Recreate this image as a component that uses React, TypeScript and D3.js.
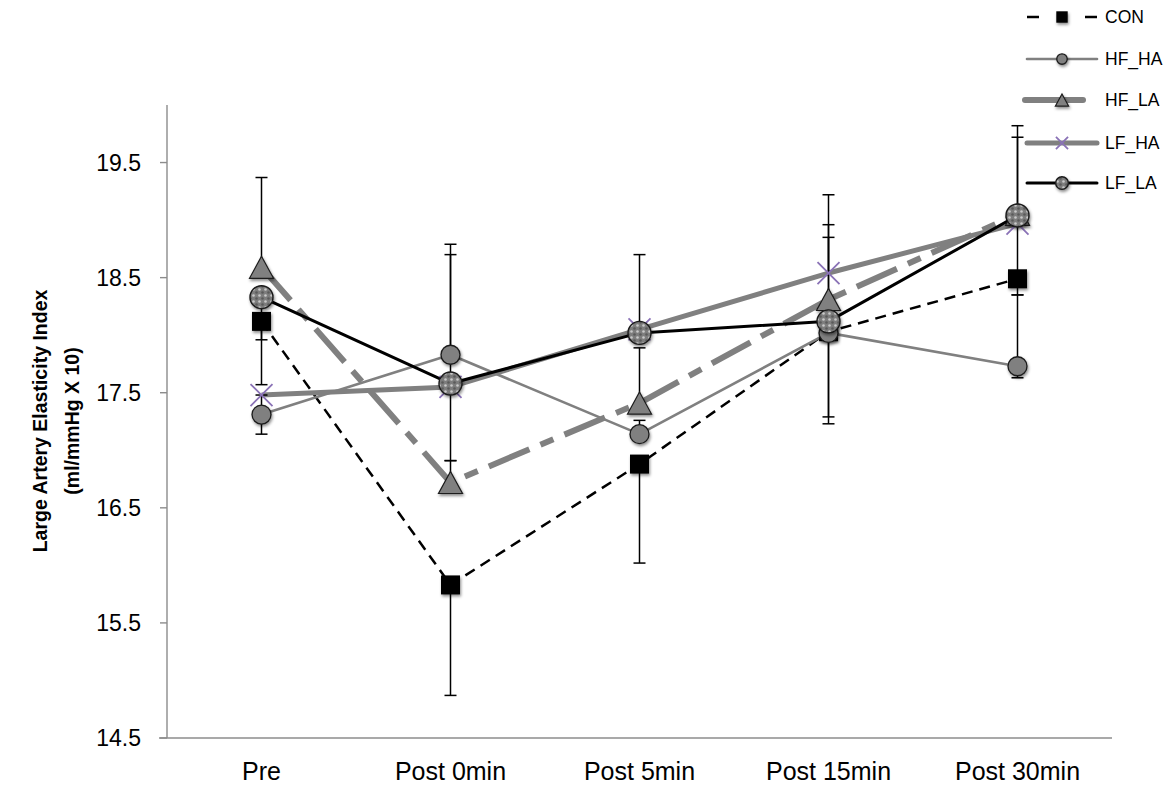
import React from "react";
import * as d3 from "d3";

// Time points on the x axis
const categories = ["Pre", "Post 0min", "Post 5min", "Post 15min", "Post 30min"];
const yTicks = [14.5, 15.5, 16.5, 17.5, 18.5, 19.5];

// Group means
const conValues = [18.12, 15.83, 16.88, 18.03, 18.49];
const hfHaValues = [17.31, 17.83, 17.14, 18.02, 17.73];
const hfLaValues = [18.59, 16.72, 17.41, 18.31, 19.05];
const lfHaValues = [17.48, 17.55, 18.05, 18.54, 18.97];
const lfLaValues = [18.33, 17.58, 18.02, 18.12, 19.04];

// One-sided error bars (0 = not drawn)
const conErrPlus = [0, 0, 0, 0, 0];
const conErrMinus = [0.55, 0.96, 0.86, 0.8, 0];
const hfHaErrPlus = [0.17, 0.96, 0.12, 0, 0.62];
const hfHaErrMinus = [0.17, 0, 0, 0.73, 0.1];
const hfLaErrPlus = [0.78, 0.19, 0.48, 0.65, 0.77];
const hfLaErrMinus = [0, 0, 0, 0, 0];
const lfHaErrPlus = [0, 0, 0, 0.68, 0];
const lfHaErrMinus = [0, 0.64, 0, 0, 0.62];
const lfLaErrPlus = [0, 1.12, 0.68, 0.73, 0.68];
const lfLaErrMinus = [0.37, 0, 0, 0, 0];

type MarkerKind = "square" | "circle" | "triangle" | "x" | "pattern";

interface Series {
  name: string;
  values: number[];
  plus: number[];
  minus: number[];
  color: string;
  width: number;
  dash?: string;
  marker: MarkerKind;
}

const series: Series[] = [
  { name: "CON", values: conValues, plus: conErrPlus, minus: conErrMinus, color: "#000000", width: 2.5, dash: "11,7", marker: "square" },
  { name: "HF_HA", values: hfHaValues, plus: hfHaErrPlus, minus: hfHaErrMinus, color: "#808080", width: 2.6, marker: "circle" },
  { name: "HF_LA", values: hfLaValues, plus: hfLaErrPlus, minus: hfLaErrMinus, color: "#808080", width: 6, dash: "44,12,14,12", marker: "triangle" },
  { name: "LF_HA", values: lfHaValues, plus: lfHaErrPlus, minus: lfHaErrMinus, color: "#808080", width: 5, marker: "x" },
  { name: "LF_LA", values: lfLaValues, plus: lfLaErrPlus, minus: lfLaErrMinus, color: "#000000", width: 3, marker: "pattern" },
];

const W = 1171;
const H = 786;
const plotLeft = 167;
const plotRight = 1112;
const plotTop = 105;
const plotBottom = 738;

const font = "'Liberation Sans', Arial, Helvetica, sans-serif";

function Marker({ kind, cx, cy, scale = 1 }: { kind: MarkerKind; cx: number; cy: number; scale?: number }) {
  const s = scale;
  if (kind === "square") {
    const h = 9.5 * s;
    return <rect x={cx - h} y={cy - h} width={2 * h} height={2 * h} fill="#000" filter="url(#mshadow)" />;
  }
  if (kind === "circle") {
    return <circle cx={cx} cy={cy} r={9.5 * s} fill="#808080" stroke="#1a1a1a" strokeWidth={1.3} filter="url(#mshadow)" />;
  }
  if (kind === "pattern") {
    return <circle cx={cx} cy={cy} r={11.5 * s} fill="url(#dotfill)" stroke="#1a1a1a" strokeWidth={1.4} filter="url(#mshadow)" />;
  }
  if (kind === "triangle") {
    const hw = 12 * s;
    const hh = 11 * s;
    const p = d3.path();
    p.moveTo(cx, cy - hh);
    p.lineTo(cx + hw, cy + hh);
    p.lineTo(cx - hw, cy + hh);
    p.closePath();
    return <path d={p.toString()} fill="#808080" stroke="#1a1a1a" strokeWidth={1.2} filter="url(#mshadow)" />;
  }
  const r = 11 * s;
  const p = d3.path();
  p.moveTo(cx - r, cy - r);
  p.lineTo(cx + r, cy + r);
  p.moveTo(cx + r, cy - r);
  p.lineTo(cx - r, cy + r);
  return <path d={p.toString()} stroke="#8a72b6" strokeWidth={1.8} fill="none" />;
}

export default function App() {
  const x = d3.scaleBand<string>().domain(categories).range([plotLeft, plotRight]).padding(0);
  const cx = (c: string) => (x(c) ?? 0) + x.bandwidth() / 2;
  const y = d3.scaleLinear().domain([14.5, 20]).range([plotBottom, plotTop]);

  const line = d3
    .line<number>()
    .x((_, i) => cx(categories[i]))
    .y((v) => y(v));

  const legendY = [17, 59, 100, 143, 183];
  const legendX0 = 1027;
  const legendX1 = 1097;
  const legendMid = 1062;

  return (
    <svg
      width={W}
      height={H}
      style={{ position: "absolute", left: 0, top: 0, background: "#fff" }}
      fontFamily={font}
    >
      <defs>
        <filter id="mshadow" x="-50%" y="-50%" width="200%" height="200%">
          <feDropShadow dx="1" dy="2" stdDeviation="1.6" floodColor="#000" floodOpacity="0.45" />
        </filter>
        <pattern id="dotfill" patternUnits="userSpaceOnUse" width="6" height="6">
          <rect width="6" height="6" fill="#7d7d7d" />
          <circle cx="1.5" cy="1.5" r="1.3" fill="#c9c9c9" />
          <circle cx="4.5" cy="4.5" r="1.3" fill="#5a5a5a" />
        </pattern>
      </defs>

      {/* Axes */}
      <line x1={plotLeft} y1={plotTop} x2={plotLeft} y2={plotBottom} stroke="#8c8c8c" strokeWidth={1.4} />
      <line x1={plotLeft - 8} y1={plotBottom} x2={plotRight} y2={plotBottom} stroke="#8c8c8c" strokeWidth={1.4} />
      {yTicks.map((t) => (
        <g key={t}>
          <line x1={plotLeft - 7} x2={plotLeft} y1={y(t)} y2={y(t)} stroke="#8c8c8c" strokeWidth={1.4} />
          <text x={141} y={y(t)} dy="0.36em" textAnchor="end" fontSize={23} fill="#000">
            {t.toFixed(1)}
          </text>
        </g>
      ))}
      {categories.map((c) => (
        <text key={c} x={cx(c)} y={780} textAnchor="middle" fontSize={25} fill="#000">
          {c}
        </text>
      ))}

      {/* Y axis title */}
      <g transform="translate(47,421) rotate(-90)">
        <text textAnchor="middle" fontSize={19.5} fontWeight="bold" fill="#000">
          Large Artery Elasticity Index
        </text>
      </g>
      <g transform="translate(79,421) rotate(-90)">
        <text textAnchor="middle" fontSize={19.5} fontWeight="bold" fill="#000">
          (ml/mmHg X 10)
        </text>
      </g>

      {/* Series lines */}
      {series.map((s) => (
        <path
          key={s.name}
          d={line(s.values) ?? ""}
          fill="none"
          stroke={s.color}
          strokeWidth={s.width}
          strokeDasharray={s.dash}
          strokeLinejoin="round"
        />
      ))}

      {/* Error bars */}
      {series.map((s) =>
        s.values.map((v, i) => {
          const px = cx(categories[i]);
          const bars: JSX.Element[] = [];
          const draw = (end: number, key: string) => {
            bars.push(
              <g key={key}>
                <line x1={px} x2={px} y1={y(v)} y2={y(end)} stroke="#000" strokeWidth={1.5} />
                <line x1={px - 6} x2={px + 6} y1={y(end)} y2={y(end)} stroke="#000" strokeWidth={1.5} />
              </g>
            );
          };
          if (s.plus[i] > 0) draw(v + s.plus[i], `${s.name}-p-${i}`);
          if (s.minus[i] > 0) draw(v - s.minus[i], `${s.name}-m-${i}`);
          return bars;
        })
      )}

      {/* Markers */}
      {series.map((s) =>
        s.values.map((v, i) => (
          <Marker key={`${s.name}-${i}`} kind={s.marker} cx={cx(categories[i])} cy={y(v)} />
        ))
      )}

      {/* Legend */}
      {series.map((s, i) => {
        const ly = legendY[i];
        const x1 = s.name === "HF_LA" ? 1025 : legendX0;
        const x2 = s.name === "HF_LA" ? 1083 : legendX1;
        return (
          <g key={`leg-${s.name}`}>
            {s.name === "CON" ? (
              <>
                <line x1={1027} x2={1039} y1={ly} y2={ly} stroke="#000" strokeWidth={2.5} />
                <line x1={1085} x2={1097} y1={ly} y2={ly} stroke="#000" strokeWidth={2.5} />
              </>
            ) : (
              <line x1={x1} x2={x2} y1={ly} y2={ly} stroke={s.color} strokeWidth={s.width} strokeLinecap="round" />
            )}
            <Marker kind={s.marker} cx={legendMid} cy={ly} scale={s.marker === "square" ? 0.6 : 0.55} />
            <text x={1105} y={ly} dy="0.36em" fontSize={17.5} fill="#000">
              {s.name}
            </text>
          </g>
        );
      })}
    </svg>
  );
}
